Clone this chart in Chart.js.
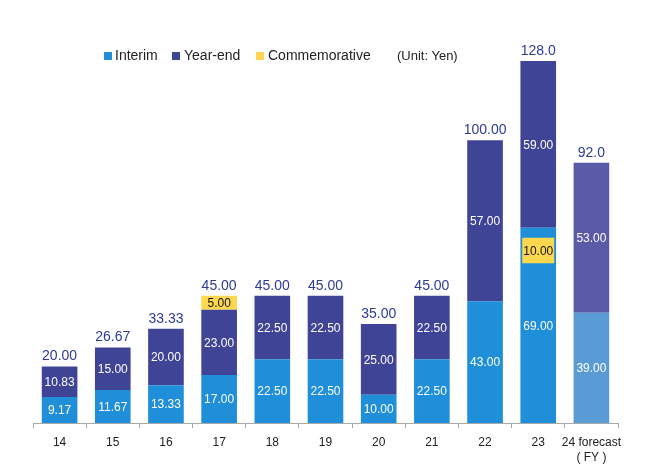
<!DOCTYPE html>
<html>
<head>
<meta charset="utf-8">
<script src="https://cdn.jsdelivr.net/npm/chart.js@4"></script>
<style>
  body { margin: 0; background: #fff; }
  #wrap { position: relative; width: 648px; height: 474px; font-family: "Liberation Sans", Arial, sans-serif; color: #222; }
  .sw { position: absolute; width: 8px; height: 8px; top: 52px; }
  .lg { position: absolute; top: 47px; font-size: 14px; line-height: 17px; white-space: nowrap; }
</style>
</head>
<body>
<div id="wrap">
  <canvas id="myChart" width="648" height="474"></canvas>
  <span class="sw" style="left:104px;background:#1e8fd8"></span><span class="lg" style="left:115px">Interim</span>
  <span class="sw" style="left:172px;background:#3f4497"></span><span class="lg" style="left:184px">Year-end</span>
  <span class="sw" style="left:256px;background:#fdd84e"></span><span class="lg" style="left:268px">Commemorative</span>
  <span class="lg" style="left:397px;font-size:13px">(Unit: Yen)</span>
</div>
<script>
//Chart data
var years = ["14", "15", "16", "17", "18", "19", "20", "21", "22", "23", ["24 forecast", "( FY )"]];
var interim = [9.17, 11.67, 13.33, 17, 22.5, 22.5, 10, 22.5, 43, 69, 39];
var yearEnd = [10.83, 15, 20, 23, 22.5, 22.5, 25, 22.5, 57, 59, 53];
var commemorative = [null, null, null, 5, null, null, null, null, null, null, null];
//FY23 commemorative 10.00 is shown as a box inside the interim bar
var commemorativeBox = [null, null, null, null, null, null, null, null, null, [56.5, 65.5], null];
var boxLabels = [null, null, null, null, null, null, null, null, null, "10.00", null];
var totalLabels = ["20.00", "26.67", "33.33", "45.00", "45.00", "45.00", "35.00", "45.00", "100.00", "128.0", "92.0"];

//Colors
var blue = "#1e8fd8";
var navy = "#3f4497";
var yellow = "#fdd84e";
var interimColors = interim.map(function (v, i) { return i === interim.length - 1 ? "#5a9bd6" : blue; });
var yearEndColors = yearEnd.map(function (v, i) { return i === yearEnd.length - 1 ? "#5b5aa8" : navy; });

var font = '"Liberation Sans", Arial, sans-serif';

//Draws the numbers inside and above the bars
var labelPlugin = {
  id: "barLabels",
  afterDatasetsDraw: function (chart) {
    var ctx = chart.ctx;
    ctx.save();
    ctx.textAlign = "center";
    ctx.textBaseline = "middle";
    ctx.font = "12px " + font;

    chart.data.datasets.forEach(function (ds, di) {
      var meta = chart.getDatasetMeta(di);
      meta.data.forEach(function (bar, i) {
        var v = ds.data[i];
        if (v === null || v === undefined) return;
        var text;
        if (ds.boxText) {
          text = ds.boxText[i];
        } else {
          text = v.toFixed(2);
        }
        ctx.fillStyle = ds.labelColor;
        ctx.fillText(text, bar.x, (bar.y + bar.base) / 2 + 1);
      });
    });

    //totals above each bar
    var yScale = chart.scales.y;
    var meta0 = chart.getDatasetMeta(0);
    ctx.font = "14px " + font;
    ctx.fillStyle = "#2e3a96";
    ctx.textBaseline = "bottom";
    for (var i = 0; i < years.length; i++) {
      var total = interim[i] + yearEnd[i] + (commemorative[i] || 0);
      ctx.fillText(totalLabels[i], meta0.data[i].x, yScale.getPixelForValue(total) - 3);
    }
    ctx.restore();
  }
};

var ctx = document.getElementById("myChart").getContext("2d");
var myChart = new Chart(ctx, {
  type: "bar",
  data: {
    labels: years,
    datasets: [
      {
        label: "Interim",
        data: interim,
        backgroundColor: interimColors,
        labelColor: "#ffffff"
      },
      {
        label: "Year-end",
        data: yearEnd,
        backgroundColor: yearEndColors,
        labelColor: "#ffffff"
      },
      {
        label: "Commemorative",
        data: commemorative,
        backgroundColor: yellow,
        labelColor: "#111111"
      },
      {
        label: "Commemorative box",
        data: commemorativeBox,
        stack: "box",
        grouped: false,
        order: -1,
        backgroundColor: yellow,
        barPercentage: 0.6,
        boxText: boxLabels,
        labelColor: "#111111"
      }
    ]
  },
  options: {
    responsive: false,
    animation: false,
    barPercentage: 0.67,
    categoryPercentage: 1,
    layout: { padding: { left: 33, right: 30, top: 27, bottom: 2 } },
    plugins: {
      legend: { display: false },
      tooltip: { enabled: false }
    },
    scales: {
      x: {
        stacked: true,
        grid: { offset: true, drawOnChartArea: false, tickLength: 5, color: "#a8a8a8" },
        border: { color: "#a8a8a8" },
        ticks: { color: "#222", padding: 7, maxRotation: 0, autoSkip: false, font: { family: font, size: 12, lineHeight: 1.25 } }
      },
      y: {
        display: false,
        stacked: true,
        min: 0,
        max: 140
      }
    }
  },
  plugins: [labelPlugin]
});
</script>
</body>
</html>
